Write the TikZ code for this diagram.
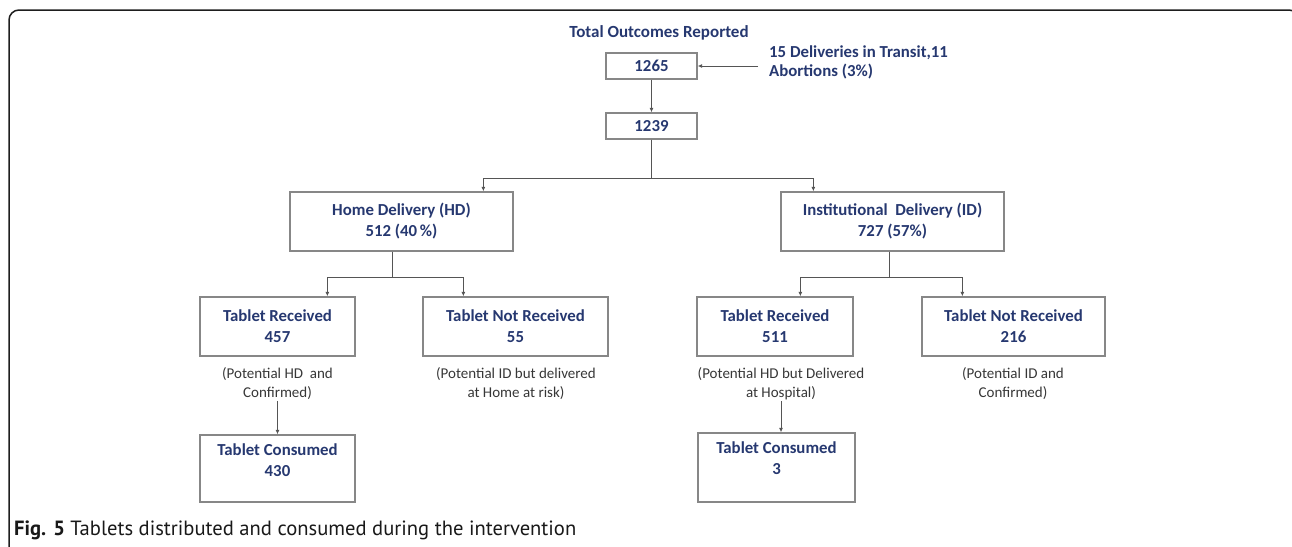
\documentclass[tikz,border=0pt]{standalone}
\usepackage{fontspec}
\setmainfont{Carlito}
\newfontfamily\capfont{PT Sans}
\usetikzlibrary{arrows.meta,calc}
\definecolor{navy}{RGB}{38,56,112}
\definecolor{boxgray}{RGB}{135,135,135}
\definecolor{linegray}{RGB}{85,85,85}
\definecolor{notegray}{RGB}{55,55,55}
\definecolor{framecol}{RGB}{30,30,30}
\begin{document}
\begin{tikzpicture}[x=1pt,y=-1pt,
  box/.style 2 args={draw=boxgray,line width=1.3pt,minimum width=#1,minimum height=#2,
    inner sep=0pt,align=center,text=navy,font=\bfseries\fontsize{16.8}{21}\selectfont},
  boxtext/.style={inner sep=0pt,align=center,text=navy,font=\bfseries\fontsize{16.8}{21}\selectfont},
  note/.style={inner sep=1pt,align=center,text=notegray,font=\fontsize{15}{19.5}\selectfont},
  ln/.style={draw=linegray,line width=1pt},
  arr/.style={ln,-{Latex[length=4.5pt,width=4pt]}}
]
\useasboundingbox (0,0) rectangle (1292,546);
% frame
\begin{scope}
  \clip (0,0) rectangle (1292,546);
  \draw[line width=1.5pt,framecol,rounded corners=10pt] (9,560) -- (9,10) -- (1299,10) -- (1299,560);
\end{scope}

% top
\node[boxtext,font=\bfseries\fontsize{17}{21}\selectfont] (title) at (659,33) {Total Outcomes Reported};
\node[box={91pt}{26pt}] (b1265) at (651.5,66) {1265};
\node[boxtext,anchor=west,align=left,font=\bfseries\fontsize{16.8}{19.5}\selectfont] (trans) at (769,62.5) {15 Deliveries in Transit,11\\Abortions (3\%)};
\coordinate (transin) at (758,66);
\draw[arr] (transin) -- (b1265.east);
\node[box={91pt}{26pt}] (b1239) at (651.5,126) {1239};
\draw[arr] (b1265.south) -- (b1239.north);

% second level
\node[box={223pt}{59pt}] (hd) at (401.5,221.5) {Home Delivery (HD)\\512 (40\,\%)};
\node[box={223pt}{59pt}] (id) at (892.5,221.5) {Institutional\ \ Delivery (ID)\\727 (57\%)};
\coordinate (s0) at (0,178);
\coordinate (hdin) at ($(hd.north west)+(194,0)$);
\coordinate (idin) at ($(id.north west)+(33,0)$);
\draw[arr] (b1239.south) |- (hdin |- s0) -- (hdin);
\draw[arr] (b1239.south) |- (idin |- s0) -- (idin);

% third level
\node[box={155pt}{59pt}] (tr1) at (277.5,326.5) {Tablet Received\\457};
\node[box={185pt}{59pt}] (tnr1) at (515.5,326.5) {Tablet Not Received\\55};
\node[box={156pt}{59pt}] (tr2) at (775,326.5) {Tablet Received\\511};
\node[box={183pt}{59pt}] (tnr2) at (1013.5,326.5) {Tablet Not Received\\216};

\coordinate (s1) at (0,277);
\coordinate (hdout) at ($(hd.south west)+(103,0)$);
\coordinate (idout) at ($(id.south west)+(109,0)$);
\coordinate (tr1in) at ($(tr1.north west)+(128,0)$);
\coordinate (tnr1in) at ($(tnr1.north west)+(41,0)$);
\coordinate (tr2in) at ($(tr2.north west)+(104,0)$);
\coordinate (tnr2in) at ($(tnr2.north west)+(41,0)$);
\draw[arr] (hdout) |- (tr1in |- s1) -- (tr1in);
\draw[arr] (hdout) |- (tnr1in |- s1) -- (tnr1in);
\draw[arr] (idout) |- (tr2in |- s1) -- (tr2in);
\draw[arr] (idout) |- (tnr2in |- s1) -- (tnr2in);

% notes
\node[note] (n1) at (277.5,383.5) {(Potential HD\ \ and\\Confirmed)};
\node[note] (n2) at (516,383.5) {(Potential ID but delivered\\at Home at risk)};
\node[note] (n3) at (781,383.5) {(Potential HD but Delivered\\at Hospital)};
\node[note] (n4) at (1013,383.5) {(Potential ID and\\Confirmed)};

% fourth level
\node[box={155pt}{67pt}] (tc1) at (277.5,468.5) {};
\node[boxtext] (tc1t) at (277.5,460) {Tablet Consumed\\430};
\node[box={157pt}{69pt}] (tc2) at (776.5,467.5) {};
\node[boxtext] (tc2t) at (776.5,458.5) {Tablet Consumed\\3};
\draw[arr] (n1.south) -- (n1.south |- tc1.north);
\draw[arr] (n3.south) -- (n3.south |- tc2.north);

% caption
\node[anchor=base west,inner sep=0pt,text={rgb,255:red,25;green,25;blue,25},font=\capfont\fontsize{20.6}{22}\selectfont] (cap) at (14,535) {\textbf{Fig. 5} Tablets distributed and consumed during the intervention};
\end{tikzpicture}
\end{document}
